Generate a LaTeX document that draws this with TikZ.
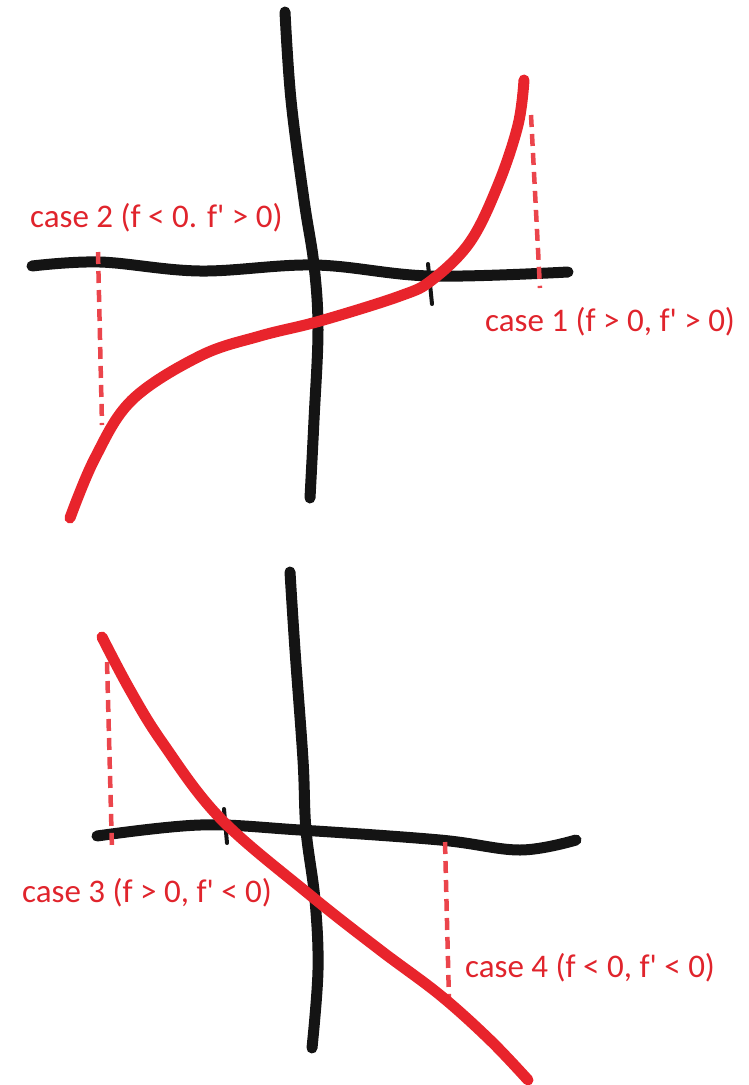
\documentclass[tikz,border=0pt]{standalone}
\usepackage{fontspec}
\setmainfont{Carlito}
\definecolor{penred}{HTML}{E8242C}
\definecolor{labelred}{HTML}{E0242C}
\definecolor{penblack}{HTML}{141414}
\newcommand{\prm}{\textquotesingle}
\tikzset{
  axisline/.style={line width=11pt, penblack, line cap=round, line join=round},
  redcurve/.style={line width=11pt, penred, line cap=round, line join=round},
  dropline/.style={line width=4.5pt, penred!85, dash pattern=on 12pt off 7pt},
  tickmark/.style={line width=4pt, penblack, line cap=round},
  caselabel/.style={labelred, font=\fontsize{33}{38}\selectfont, anchor=west, inner sep=0pt}
}
\begin{document}
\begin{tikzpicture}[x=1pt, y=-1pt]
    \useasboundingbox (0,0) rectangle (748,1085);

    % === Top sketch: increasing f ===
    % Axes
    \draw[axisline] plot[smooth, tension=0.6] coordinates
        {(285,12) (291,100) (304,200) (314,265) (318,330) (314,420) (310,498)};
    \draw[axisline] plot[smooth, tension=0.6] coordinates
        {(32,266) (100,262) (200,271) (315,265) (430,276) (568,272)};
    % Root tick
    \draw[tickmark] (428,264) -- (432,304);

    % Drop lines from the curve to the x axis
    \draw[dropline] (531,115) -- (540,288);
    \draw[dropline] (98,252) -- (102,425);

    % Red curve
    \draw[redcurve] plot[smooth, tension=0.6] coordinates
        {(70,518) (95,458) (132,400) (200,356) (260,336) (320,321)
         (400,296) (432,280) (470,242) (498,185) (518,125) (524,80)};

    % Labels
    \node[caselabel] (case2) at (30,218) {case 2 (f < 0. f\prm{} > 0)};
    \node[caselabel] (case1) at (485,322) {case 1 (f > 0, f\prm{} > 0)};

    % === Bottom sketch: decreasing f ===
    % Axes
    \draw[axisline] plot[smooth, tension=0.6] coordinates
        {(290,572) (295,650) (303,760) (306,830) (315,900) (318,970) (312,1048)};
    \draw[axisline] plot[smooth, tension=0.6] coordinates
        {(97,836) (200,825) (300,830) (440,840) (520,850) (576,840)};
    % Root tick
    \draw[tickmark] (224,809) -- (227,843);

    % Drop lines from the curve to the x axis
    \draw[dropline] (107,662) -- (112,850);
    \draw[dropline] (445,842) -- (449,1000);

    % Red curve
    \draw[redcurve] plot[smooth, tension=0.6] coordinates
        {(102,637) (130,690) (162,742) (220,818) (310,895) (380,950)
         (440,995) (490,1040) (528,1080)};

    % Labels
    \node[caselabel] (case3) at (22,893) {case 3 (f > 0, f\prm{} < 0)};
    \node[caselabel] (case4) at (465,968) {case 4 (f < 0, f\prm{} < 0)};

\end{tikzpicture}
\end{document}
